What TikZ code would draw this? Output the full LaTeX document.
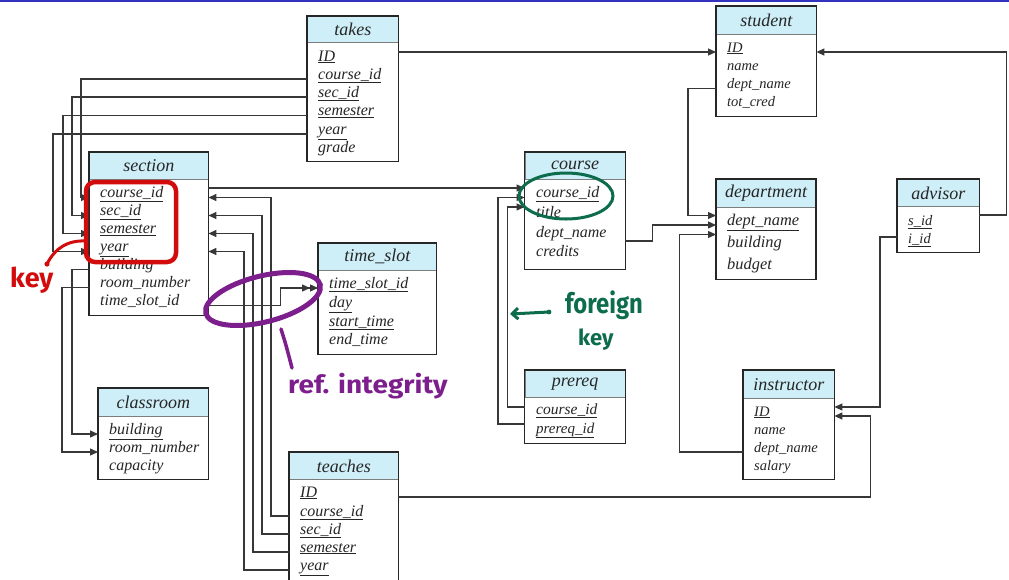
\documentclass[tikz,border=0pt]{standalone}
\usepackage{fontspec}
\setmainfont{Liberation Serif}
\newfontfamily\handfont{Fira Sans}
\usetikzlibrary{arrows.meta,calc}
\definecolor{hdrblue}{RGB}{206,238,248}
\definecolor{ink}{RGB}{38,38,38}
\definecolor{linec}{RGB}{55,55,55}
\definecolor{redpen}{RGB}{210,12,12}
\definecolor{purplepen}{RGB}{124,30,140}
\definecolor{greenpen}{RGB}{12,108,76}
\definecolor{topblue}{RGB}{50,50,190}
\newcommand{\myul}[1]{\underline{#1}}
\newcommand{\rf}[1]{\fontsize{#1}{#1}\selectfont\itshape}
\newcommand{\tbl}[7]{%
  \node[tbody, minimum width={#3-#2}, minimum height={#6-#5}] (#1-b) at (#2,#5) {};
  \node[hdr, minimum width={#3-#2}, minimum height={#5-#4}] (#1) at (#2,#4) {#7};
  \draw[tframe] (#1.north west) rectangle (#1-b.south east);
}
\begin{document}
\begin{tikzpicture}[x=1pt,y=-1pt,
  hdr/.style={fill=hdrblue, draw=ink!60, line width=0.7pt, anchor=north west, inner sep=0pt, font=\fontsize{18}{18}\selectfont\itshape, text=ink},
  tbody/.style={fill=white, anchor=north west, inner sep=0pt},
  tframe/.style={draw=ink, line width=1.4pt},
  rowtxt/.style={anchor=base west, inner sep=0pt, text=ink},
  conn/.style={draw=linec, line width=1.3pt},
  arr/.style={conn, -{Triangle[length=8pt,width=7pt]}},
  dblarr/.style={conn, -{Triangle[length=8pt,width=7pt] Triangle[length=8pt,width=7pt]}},
  handtxt/.style={anchor=base west, inner sep=0pt},
]
\useasboundingbox (0,0) rectangle (1009,579);
\clip (0,0) rectangle (1009,579);
\draw[topblue, line width=2pt] (0,1) -- (1009,1);

% ---- tables ----
\tbl{takes}{307}{398}{16}{42}{161}{takes}
\tbl{section}{89}{208}{152}{179}{315}{section}
\tbl{ts}{318}{436}{243}{270}{354}{time\_slot}
\tbl{class}{98}{208}{388}{416}{479}{classroom}
\tbl{teaches}{289}{398}{452}{479}{600}{teaches}
\tbl{course}{524.5}{625}{152}{179}{269}{course}
\tbl{prereq}{524.5}{625}{370}{397}{443}{prereq}
\tbl{student}{716}{816}{6}{34}{116}{student}
\tbl{dept}{716}{815.5}{179}{207}{279}{department}
\tbl{adv}{897}{979}{179}{206}{252}{advisor}
\tbl{instr}{743}{834}{370}{398}{479}{instructor}

% takes rows
\node[rowtxt, font=\rf{16}] (takes-ID) at (318,61) {\myul{ID}};
\node[rowtxt, font=\rf{16}] (takes-cid) at (318,79) {\myul{course\_id}};
\node[rowtxt, font=\rf{16}] (takes-sid) at (318,97) {\myul{sec\_id}};
\node[rowtxt, font=\rf{16}] (takes-sem) at (318,115.5) {\myul{semester}};
\node[rowtxt, font=\rf{16}] (takes-yr) at (318,134) {\myul{year}};
\node[rowtxt, font=\rf{16}] (takes-gr) at (318,152) {grade};
% section rows
\node[rowtxt, font=\rf{16}] (section-cid) at (100,197.5) {\myul{course\_id}};
\node[rowtxt, font=\rf{16}] (section-sid) at (100,215.5) {\myul{sec\_id}};
\node[rowtxt, font=\rf{16}] (section-sem) at (100,233.5) {\myul{semester}};
\node[rowtxt, font=\rf{16}] (section-yr) at (100,251.5) {\myul{year}};
\node[rowtxt, font=\rf{16}] (section-bld) at (100,269.5) {building};
\node[rowtxt, font=\rf{16}] (section-rn) at (100,287.5) {room\_number};
\node[rowtxt, font=\rf{16}] (section-ts) at (100,305.5) {time\_slot\_id};
% time_slot rows
\node[rowtxt, font=\rf{16}] (ts-tsid) at (329,288) {\myul{time\_slot\_id}};
\node[rowtxt, font=\rf{16}] (ts-day) at (329,307) {\myul{day}};
\node[rowtxt, font=\rf{16}] (ts-st) at (329,326) {\myul{start\_time}};
\node[rowtxt, font=\rf{16}] (ts-et) at (329,344) {end\_time};
% classroom rows
\node[rowtxt, font=\rf{16}] (class-bld) at (109,434) {\myul{building}};
\node[rowtxt, font=\rf{16}] (class-rn) at (109,452) {room\_number};
\node[rowtxt, font=\rf{16}] (class-cap) at (109,470) {capacity};
% teaches rows
\node[rowtxt, font=\rf{16}] (teaches-ID) at (300,497) {\myul{ID}};
\node[rowtxt, font=\rf{16}] (teaches-cid) at (300,516) {\myul{course\_id}};
\node[rowtxt, font=\rf{16}] (teaches-sid) at (300,534) {\myul{sec\_id}};
\node[rowtxt, font=\rf{16}] (teaches-sem) at (300,552) {\myul{semester}};
\node[rowtxt, font=\rf{16}] (teaches-yr) at (300,570) {\myul{year}};
% course rows
\node[rowtxt, font=\rf{16}] (course-cid) at (536,197.5) {\myul{course\_id}};
\node[rowtxt, font=\rf{16}] (course-ti) at (536,217) {title};
\node[rowtxt, font=\rf{16}] (course-dn) at (536,237) {dept\_name};
\node[rowtxt, font=\rf{16}] (course-cr) at (536,256) {credits};
% prereq rows
\node[rowtxt, font=\rf{15.5}] (prereq-cid) at (536,414) {\myul{course\_id}};
\node[rowtxt, font=\rf{15}] (prereq-pid) at (536,433) {\myul{prereq\_id}};
% student rows
\node[rowtxt, font=\rf{14.5}] (student-ID) at (727,52) {\myul{ID}};
\node[rowtxt, font=\rf{14.5}] (student-nm) at (727,70.5) {name};
\node[rowtxt, font=\rf{14.5}] (student-dn) at (727,88.5) {dept\_name};
\node[rowtxt, font=\rf{14.5}] (student-tc) at (727,106) {tot\_cred};
% department rows
\node[rowtxt, font=\rf{16.4}] (dept-dn) at (727,225) {\myul{dept\_name}};
\node[rowtxt, font=\rf{16.4}] (dept-bld) at (727,247) {building};
\node[rowtxt, font=\rf{16.4}] (dept-bud) at (727,269) {budget};
% advisor rows
\node[rowtxt, font=\rf{14.5}] (adv-sid) at (908,225) {\myul{s\_id}};
\node[rowtxt, font=\rf{14.5}] (adv-iid) at (908,243) {\myul{i\_id}};
% instructor rows
\node[rowtxt, font=\rf{14.5}] (instr-ID) at (754,416) {\myul{ID}};
\node[rowtxt, font=\rf{14.5}] (instr-nm) at (754,434) {name};
\node[rowtxt, font=\rf{14.5}] (instr-dn) at (754,452) {dept\_name};
\node[rowtxt, font=\rf{14.5}] (instr-sal) at (754,470) {salary};

% ---- connectors ----
\draw[arr] (takes-b.east |- student-ID.base) -- (student-b.west |- student-ID.base);
\draw[arr] (takes-b.west |- takes-cid.base) -- ++(-226,0) |- (section-b.west |- section-cid.base);
\draw[arr] (takes-b.west |- takes-sid.base) -- ++(-235,0) |- (section-b.west |- section-sid.base);
\draw[arr] (takes-b.west |- takes-sem.base) -- ++(-244,0) |- (section-b.west |- section-sem.base);
\draw[arr] (takes-b.west |- takes-yr.base) -- ++(-254,0) |- (section-b.west |- section-yr.base);

\draw[arr] (teaches-b.west |- teaches-cid.base) -- ++(-18,0) |- (section-b.east |- section-cid.base);
\draw[arr] (teaches-b.west |- teaches-sid.base) -- ++(-27,0) |- (section-b.east |- section-sid.base);
\draw[arr] (teaches-b.west |- teaches-sem.base) -- ++(-36,0) |- (section-b.east |- section-sem.base);
\draw[arr] (teaches-b.west |- teaches-yr.base) -- ++(-45,0) |- (section-b.east |- section-yr.base);

\draw[dblarr] (section-b.east |- section-ts.base) -- ++(72,0) |- (ts-b.west |- ts-tsid.base);
\draw[arr] (section-b.west |- section-bld.base) -- ++(-17,0) |- (class-b.west |- class-bld.base);
\draw[arr] (section-b.west |- section-rn.base) -- ++(-27,0) |- (class-b.west |- class-rn.base);

\coordinate (cin1) at ($(course-b.west |- course-cid.base)+(0,-9.5)$);
\coordinate (cin2) at (course-b.west |- course-cid.base);
\coordinate (cin3) at ($(course-b.west |- course-cid.base)+(0,9.5)$);
\draw[arr] (section-b.east |- cin1) -- (cin1);
\draw[arr] ($(prereq-b.west |- prereq-cid.base)+(0,-7)$) -- ++(-17,0) |- (cin3);
\draw[arr] ($(prereq-b.west |- prereq-pid.base)+(0,-9)$) -- ++(-26.5,0) |- (cin2);

\coordinate (din1) at ($(dept-b.west |- dept-dn.base)+(0,-9.5)$);
\coordinate (din2) at (dept-b.west |- dept-dn.base);
\coordinate (din3) at ($(dept-b.west |- dept-dn.base)+(0,9.5)$);
\draw[arr] (student-b.west |- student-dn.base) -- ++(-28,0) |- (din1);
\draw[arr] ($(course-b.east |- course-dn.base)+(0,4)$) -- ++(27,0) |- (din2);
\draw[arr] (instr-b.west |- instr-dn.base) -- ++(-63.5,0) |- (din3);

\draw[arr] ($(adv-b.east |- adv-sid.base)+(0,-10)$) -- ++(27,0) |- (student-b.east |- student-ID.base);
\coordinate (iin1) at ($(instr-b.east |- instr-ID.base)+(0,-9)$);
\coordinate (iin2) at (instr-b.east |- instr-ID.base);
\draw[arr] ($(adv-b.west |- adv-iid.base)+(0,-6)$) -- ++(-17,0) |- (iin1);
\draw[arr] (teaches-b.east |- teaches-ID.base) -- ++(472,0) |- (iin2);

% ---- handwritten annotations ----
\draw[redpen, line width=4.5pt, rounded corners=9pt] (86,182) rectangle (176,262);
\draw[redpen, line width=3pt, line cap=round] (47,264) .. controls (55,248) and (68,240) .. (86,241);
\fill[redpen] (47,264) circle (2.6);
\node[handtxt, text=redpen, font=\handfont\bfseries\fontsize{27}{27}\selectfont] (keylbl) at (10,287) {key};

\draw[purplepen, line width=5pt, rotate around={14:(263,299)}] (263,299) ellipse (59 and 23);
\draw[purplepen, line width=3.5pt, line cap=round] (281,329) .. controls (286,345) .. (292,368);
\node[handtxt, text=purplepen, font=\handfont\bfseries\fontsize{25}{25}\selectfont] (refint) at (288,393) {\scalebox{1.12}[1]{ref. integrity}};

\draw[greenpen, line width=3pt] (566,196) ellipse (47 and 23);
\draw[greenpen, line width=3pt, line cap=round, -{Straight Barb[length=6pt,width=11pt]}] (549,312) -- (510,314);
\fill[greenpen] (549,312) circle (2.4);
\node[handtxt, text=greenpen, font=\handfont\bfseries\fontsize{28}{28}\selectfont] (fk1) at (565,313) {\scalebox{0.85}[1]{foreign}};
\node[handtxt, text=greenpen, font=\handfont\bfseries\fontsize{22}{22}\selectfont] (fk2) at (578,345) {key};
\end{tikzpicture}
\end{document}
